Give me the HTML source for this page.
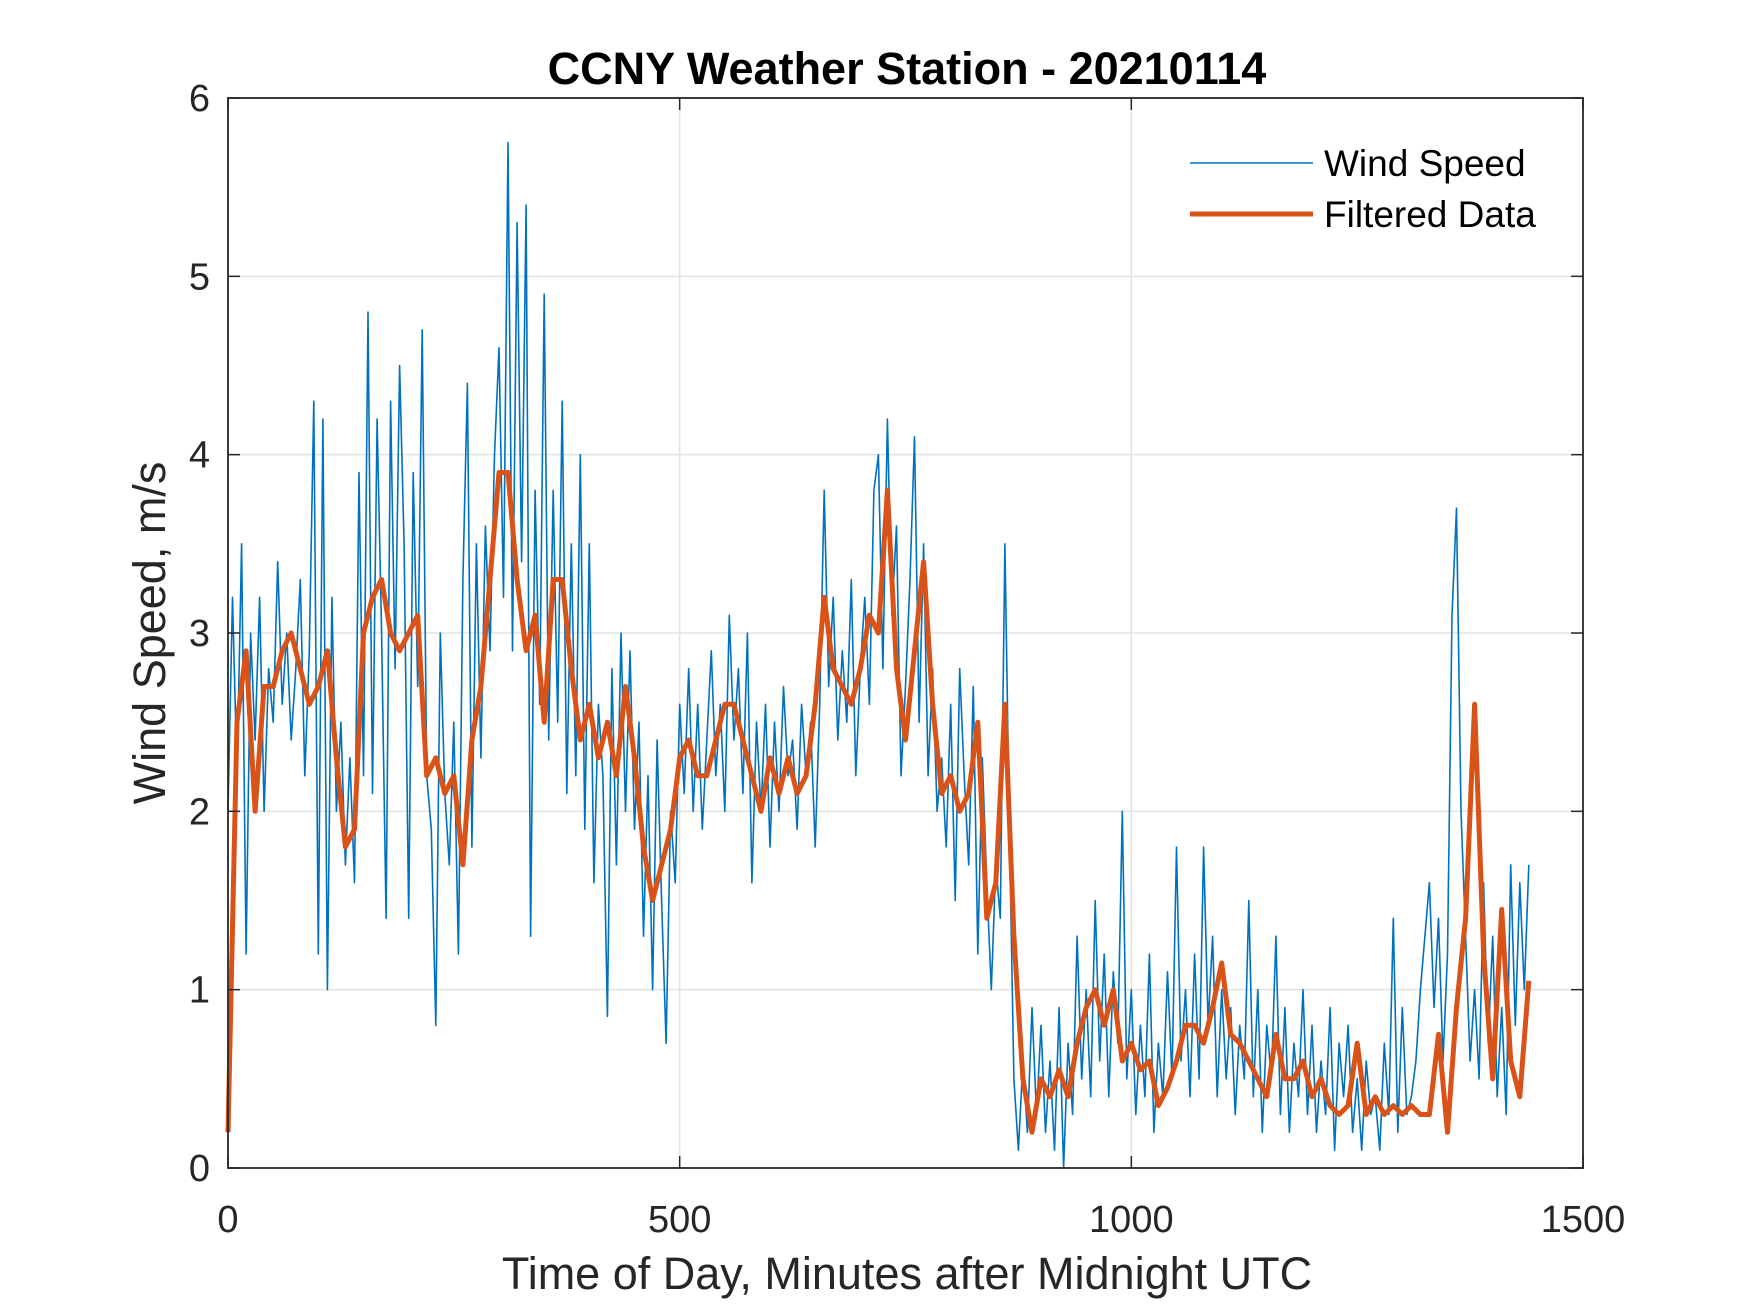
<!DOCTYPE html>
<html><head><meta charset="utf-8"><style>
html,body{margin:0;padding:0;background:#fff;}
svg{display:block;font-family:"Liberation Sans",Arial,sans-serif;}
</style></head><body>
<svg id="chart" width="1750" height="1313" viewBox="0 0 1750 1313" xmlns="http://www.w3.org/2000/svg">
<rect width="1750" height="1313" fill="#fff"/>
<g id="grid"></g>
<g id="series"></g>
<g id="axes"></g>
<text x="907" y="84" text-anchor="middle" font-size="45" font-weight="bold" fill="#000">CCNY Weather Station - 20210114</text>
<text x="907" y="1289" text-anchor="middle" font-size="45" fill="#262626">Time of Day, Minutes after Midnight UTC</text>
<text transform="translate(165,633) rotate(-90)" text-anchor="middle" font-size="45" fill="#262626">Wind Speed, m/s</text>
<g>
<line x1="1190" y1="163" x2="1313" y2="163" stroke="#0072BD" stroke-width="1.5"/>
<text x="1324" y="176" font-size="37" fill="#000">Wind Speed</text>
<line x1="1190" y1="214" x2="1313" y2="214" stroke="#D95319" stroke-width="5"/>
<text x="1324" y="227" font-size="37" fill="#000">Filtered Data</text>
</g>
</svg>
<script>
const xTicks = [0, 500, 1000, 1500];
const yTicks = [0, 1, 2, 3, 4, 5, 6];
const rawStep = 5;
const rawValues = [
2.0,3.2,2.2,3.5,1.2,3.0,2.4,3.2,2.0,2.8,2.5,3.4,2.6,
3.0,2.4,2.8,3.3,2.2,2.9,4.3,1.2,4.2,1.0,3.2,2.0,
2.5,1.7,2.3,1.6,3.9,2.2,4.8,2.1,4.2,3.0,1.4,4.3,
2.8,4.5,3.5,1.4,3.9,2.7,4.7,2.2,1.9,0.8,3.0,2.1,
1.7,2.5,1.2,3.3,4.4,1.8,3.5,2.3,3.6,2.9,4.0,4.6,
3.2,5.75,2.9,5.3,3.4,5.4,1.3,3.8,2.6,4.9,2.4,3.8,
2.5,4.3,2.1,3.5,2.2,4.0,1.9,3.5,1.6,2.6,2.2,0.85,
2.8,1.7,3.0,2.0,2.9,1.9,2.5,1.3,2.2,1.0,2.4,1.5,
0.7,2.0,1.6,2.6,2.1,2.8,2.0,2.6,1.9,2.4,2.9,2.2,
2.6,2.0,3.1,2.4,2.8,2.1,3.0,1.6,2.5,2.0,2.6,1.8,
2.5,2.0,2.7,2.2,2.4,1.9,2.6,2.2,2.5,1.8,2.6,3.8,
2.7,3.2,2.4,2.9,2.5,3.3,2.2,2.8,3.2,2.6,3.8,4.0,
2.8,4.2,3.1,3.6,2.2,2.7,3.3,4.1,2.5,3.5,2.2,2.8,
2.0,2.3,1.8,2.6,1.5,2.8,2.2,1.7,2.7,1.2,2.3,1.6,
1.0,1.7,1.4,3.5,1.9,0.5,0.1,0.6,0.2,0.9,0.3,0.8,
0.2,0.6,0.1,0.9,0.0,0.7,0.3,1.3,0.5,1.0,0.4,1.5,
0.6,1.2,0.4,1.1,0.7,2.0,0.5,1.0,0.3,0.8,0.4,1.2,
0.2,0.7,0.4,1.1,0.5,1.8,0.6,1.0,0.4,1.2,0.5,1.8,
0.8,1.3,0.4,1.0,0.5,0.9,0.3,0.8,0.5,1.5,0.4,1.0,
0.2,0.8,0.5,1.3,0.3,0.9,0.2,0.7,0.4,1.0,0.3,0.8,
0.2,0.6,0.3,0.9,0.1,0.7,0.4,0.8,0.2,0.5,0.1,0.6,
0.3,0.4,0.1,0.7,0.3,1.4,0.2,0.9,0.3,0.4,0.6,1.0,
1.3,1.6,0.9,1.4,0.6,1.2,3.1,3.7,2.0,1.3,0.6,1.0,
0.5,1.6,0.7,1.3,0.4,0.9,0.3,1.7,0.8,1.6,1.0,1.7
];
const filtStep = 10;
const filtValues = [
0.2,2.5,2.9,2.0,2.7,2.7,2.9,3.0,2.8,2.6,2.7,2.9,2.3,1.8,1.9,3.0,3.2,3.3,3.0,2.9,
3.0,3.1,2.2,2.3,2.1,2.2,1.7,2.4,2.7,3.3,3.9,3.9,3.3,2.9,3.1,2.5,3.3,3.3,2.8,2.4,
2.6,2.3,2.5,2.2,2.7,2.3,1.8,1.5,1.7,1.9,2.3,2.4,2.2,2.2,2.4,2.6,2.6,2.4,2.2,2.0,
2.3,2.1,2.3,2.1,2.2,2.6,3.2,2.8,2.7,2.6,2.8,3.1,3.0,3.8,2.8,2.4,2.9,3.4,2.6,2.1,
2.2,2.0,2.1,2.5,1.4,1.6,2.6,1.3,0.5,0.2,0.5,0.4,0.55,0.4,0.7,0.9,1.0,0.8,1.0,0.6,
0.7,0.55,0.6,0.35,0.45,0.6,0.8,0.8,0.7,0.9,1.15,0.75,0.7,0.6,0.5,0.4,0.75,0.5,0.5,0.6,
0.4,0.5,0.35,0.3,0.35,0.7,0.3,0.4,0.3,0.35,0.3,0.35,0.3,0.3,0.75,0.2,0.9,1.4,2.6,1.2,
0.5,1.45,0.6,0.4,1.05
];
const L=228,R=1583,T=98,B=1168;
const xs=v=>L+(v-0)/(1500-0)*(R-L);
const ys=v=>B-(v-0)/(6-0)*(B-T);
const NS="http://www.w3.org/2000/svg";
function mk(tag,attrs,parent){const e=document.createElementNS(NS,tag);for(const k in attrs)e.setAttribute(k,attrs[k]);parent.appendChild(e);return e;}
const grid=document.getElementById('grid'),axes=document.getElementById('axes'),series=document.getElementById('series');
xTicks.forEach(t=>{
  const x=xs(t);
  if(t>0&&t<1500){const g=mk('line',{x1:x,y1:T,x2:x,y2:B,stroke:'#e3e3e3','stroke-width':1.5},grid);
  
  }
  mk('line',{x1:x,y1:B,x2:x,y2:B-12,stroke:'#262626','stroke-width':1.5},axes);
  mk('line',{x1:x,y1:T,x2:x,y2:T+12,stroke:'#262626','stroke-width':1.5},axes);
  const tx=mk('text',{x:x,y:1232,'text-anchor':'middle','font-size':38,fill:'#262626'},axes);
  tx.textContent=t;
  
  
});
yTicks.forEach(t=>{
  const y=ys(t);
  if(t>0&&t<6){const g=mk('line',{x1:L,y1:y,x2:R,y2:y,stroke:'#e3e3e3','stroke-width':1.5},grid);
  
  }
  mk('line',{x1:L,y1:y,x2:L+12,y2:y,stroke:'#262626','stroke-width':1.5},axes);
  mk('line',{x1:R,y1:y,x2:R-12,y2:y,stroke:'#262626','stroke-width':1.5},axes);
  const tx=mk('text',{x:210,y:y+13,'text-anchor':'end','font-size':38,fill:'#262626'},axes);
  tx.textContent=t;
  
  
});
const box=mk('rect',{x:L,y:T,width:R-L,height:B-T,fill:'none',stroke:'#262626','stroke-width':1.8},axes);


const rawPts=rawValues.map((v,i)=>xs(i*rawStep).toFixed(1)+','+ys(v).toFixed(1)).join(' ');
const rawLine=mk('polyline',{points:rawPts,fill:'none',stroke:'#0072BD','stroke-width':1.6,'stroke-linejoin':'round'},series);


const fPts=filtValues.map((v,i)=>xs(i*filtStep).toFixed(1)+','+ys(v).toFixed(1)).join(' ');
const fLine=mk('polyline',{points:fPts,fill:'none',stroke:'#D95319','stroke-width':5,'stroke-linejoin':'round'},series);


</script>
</body></html>
